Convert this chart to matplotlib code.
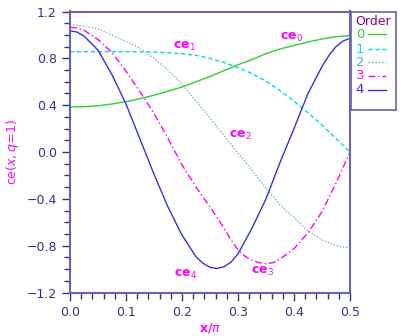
import numpy as np
import matplotlib
matplotlib.use('Agg')
import matplotlib.pyplot as plt
from matplotlib.lines import Line2D

# x / pi sample positions and values
x = [0.0, 0.025, 0.05, 0.075, 0.1, 0.125, 0.15, 0.175, 0.2, 0.225, 0.25,
     0.275, 0.3, 0.325, 0.35, 0.375, 0.4, 0.425, 0.45, 0.475, 0.5]

ce0 = [0.385, 0.387, 0.395, 0.41, 0.43, 0.455, 0.485, 0.52, 0.555, 0.60, 0.645,
       0.695, 0.745, 0.79, 0.84, 0.88, 0.91, 0.94, 0.965, 0.985, 0.995]
ce1 = [0.857, 0.857, 0.857, 0.857, 0.857, 0.856, 0.853, 0.848, 0.84, 0.825, 0.80,
       0.765, 0.72, 0.67, 0.605, 0.525, 0.435, 0.335, 0.23, 0.115, 0.0]

x2 = [0.0, 0.0125, 0.025, 0.05, 0.075, 0.1, 0.125, 0.15, 0.175, 0.2, 0.225, 0.25,
      0.275, 0.3, 0.325, 0.35, 0.375, 0.4, 0.425, 0.45, 0.475, 0.4875, 0.5]
ce2 = [1.085, 1.083, 1.075, 1.05, 1.0, 0.945, 0.885, 0.80, 0.70, 0.58, 0.435, 0.29,
       0.14, -0.01, -0.155, -0.31, -0.45, -0.56, -0.675, -0.75, -0.80, -0.812, -0.817]

x3 = [0.0, 0.0125, 0.025, 0.05, 0.075, 0.1, 0.125, 0.15, 0.175, 0.2, 0.225, 0.25,
      0.275, 0.2875, 0.3, 0.3125, 0.325, 0.3375, 0.35, 0.3625, 0.375, 0.4, 0.425,
      0.45, 0.475, 0.5]
ce3 = [1.065, 1.06, 1.04, 0.96, 0.85, 0.69, 0.515, 0.33, 0.115, -0.11, -0.30, -0.47,
       -0.65, -0.75, -0.835, -0.89, -0.925, -0.945, -0.955, -0.945, -0.915, -0.825,
       -0.69, -0.51, -0.265, 0.0]

x4 = [0.0, 0.0125, 0.025, 0.05, 0.075, 0.1, 0.125, 0.15, 0.175, 0.2, 0.225, 0.2375,
      0.25, 0.2625, 0.275, 0.2875, 0.3, 0.325, 0.35, 0.375, 0.4, 0.425, 0.45,
      0.4625, 0.475, 0.4875, 0.5]
ce4 = [1.035, 1.025, 0.99, 0.87, 0.66, 0.41, 0.11, -0.19, -0.47, -0.71, -0.895, -0.95,
       -0.985, -0.995, -0.98, -0.94, -0.87, -0.65, -0.40, -0.09, 0.20, 0.50, 0.73,
       0.825, 0.90, 0.948, 0.97]

xs = [x, x, x2, x3, x4]
series = [ce0, ce1, ce2, ce3, ce4]
orders = ['0', '1', '2', '3', '4']
colors = ['#33cc33', '#00dddd', '#55aaaa', '#ff00ff', '#3333dd']
styles = ['-', (0, (3, 2)), (0, (1, 1.5)), (0, (5, 2, 1, 2)), '-']
widths = [1.0, 1.0, 0.9, 1.0, 1.0]

# curve labels: text, x, y
lab_txt = [r'ce$_0$', r'ce$_1$', r'ce$_2$', r'ce$_3$', r'ce$_4$']
lab_x = [0.396, 0.205, 0.304, 0.343, 0.207]
lab_y = [0.98, 0.90, 0.145, -1.02, -1.05]

navy = '#333388'
spine = '#6666aa'
pink = '#ff00ff'

fig = plt.figure(figsize=(4.05, 3.36), dpi=100)
ax = fig.add_axes([70/405, 1 - 292.5/336, 280/405, 281/336])

for xx, s, c, ls, lw in zip(xs, series, colors, styles, widths):
    ax.plot(xx, s, color=c, linestyle=ls, linewidth=lw)

for t, tx, ty in zip(lab_txt, lab_x, lab_y):
    ax.text(tx, ty, t, color=pink, fontsize=9, ha='center', va='center', fontweight='bold')

ax.set_xlim(0, 0.5)
ax.set_ylim(-1.2, 1.2)
ax.set_xticks(np.arange(0, 0.51, 0.1))
ax.set_xticks(np.arange(0, 0.51, 0.02), minor=True)
ax.set_yticks(np.arange(-1.2, 1.21, 0.4))
ax.set_yticks(np.arange(-1.2, 1.21, 0.1), minor=True)
ax.xaxis.set_major_formatter(matplotlib.ticker.FuncFormatter(lambda v, p: '%.1f' % v))
ax.yaxis.set_major_formatter(matplotlib.ticker.FuncFormatter(
    lambda v, p: ('%.1f' % v).replace('-', '\u2212') if abs(v) > 1e-9 else '0.0'))

ax.tick_params(which='both', direction='out', colors=navy, labelsize=9,
               top=False, right=False)
ax.tick_params(which='major', length=6, width=1)
ax.tick_params(which='minor', length=4, width=1)
for sp in ax.spines.values():
    sp.set_color(spine)
    sp.set_linewidth(1.5)

ax.set_xlabel(r'x/$\pi$', color=pink, fontsize=9, fontweight='bold', labelpad=2)
ax.set_ylabel(r'ce$(x,q\!=\!1)$', color=pink, fontsize=9, labelpad=4)

# legend box on the right
lg = fig.add_axes([351/405, 1 - 110/336, 45/405, 98/336])
lg.set_xlim(0, 45)
lg.set_ylim(110, 12)
lg.set_xticks([])
lg.set_yticks([])
for sp in lg.spines.values():
    sp.set_color(spine)
    sp.set_linewidth(1.2)
lg.text(22, 21.7, 'Order', color='#880088', fontsize=9, ha='center', va='center')
rows = [34.3, 49.3, 62.3, 76.0, 90.0]
for o, c, ls, ry in zip(orders, colors, styles, rows):
    lg.text(9, ry, o, color=c, fontsize=9.5, ha='center', va='center')
    lg.add_line(Line2D([17, 35], [ry, ry], color=c, linestyle=ls, linewidth=1.0))

fig.savefig('out.png', dpi=100)
